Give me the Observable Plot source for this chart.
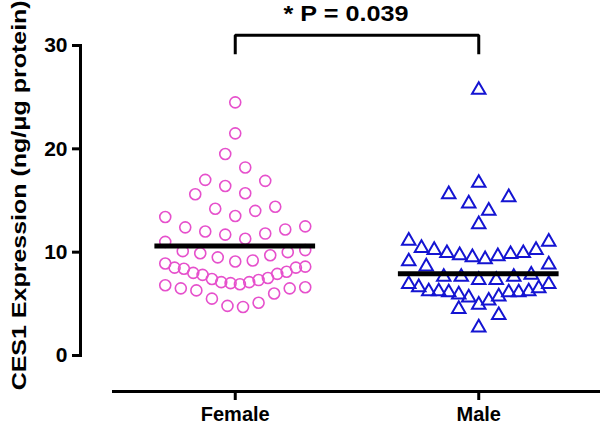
<!DOCTYPE html>
<html>
<head>
<meta charset="utf-8">
<script src="https://cdn.jsdelivr.net/npm/d3@7"></script>
<script src="https://cdn.jsdelivr.net/npm/@observablehq/plot@0.6"></script>
<style>
  html, body { margin: 0; padding: 0; background: #fff; }
</style>
</head>
<body>
<div id="chart"></div>
<script>
// ---------- data ----------
const groups = ["Female", "Male"];
const female = [24.5, 21.5, 19.5, 18.2, 16.9, 17.0, 16.4, 15.7, 15.6, 14.4, 14.2, 14.0, 13.4, 13.5,
  12.4, 12.5, 12.0, 11.7, 12.2, 11.8, 11.3, 11.0,
  10.1, 9.9, 9.5, 9.7, 10.0, 10.2,
  8.9, 9.1, 8.6, 9.2,
  8.5, 8.4, 8.0, 7.8, 7.4, 7.1, 7.0, 6.9, 7.1, 7.3, 7.5, 7.9, 8.1, 8.5,
  6.6, 6.5, 6.0, 6.3, 6.5, 6.8,
  5.1, 4.7, 4.8, 5.5];
const male = [25.7, 16.7, 15.6, 14.7, 15.3, 14.0, 12.7, 11.0, 11.1,
  10.2, 9.9, 9.8, 9.6, 9.5, 9.7, 9.9, 10.2, 10.4,
  9.1, 9.3, 8.6, 8.8,
  7.6, 7.6, 7.3, 7.3, 7.6, 7.8,
  6.9, 6.5, 6.2, 6.1, 6.1, 5.7, 5.3, 4.9, 5.6, 5.9, 6.1, 6.2, 6.2, 6.6, 6.9,
  4.5, 3.9, 2.7];
const centerLine = [10.6, 7.9];
const yTicks = [0, 10, 20, 30];
const yTitle = "CES1 Expression (ng/\u03bcg protein)";
const pLabel = "* P = 0.039";

// ---------- layout ----------
const W = 600, H = 425;
const xOpts = {domain: [-0.5, 1.5], range: [113, 600]};
const yOpts = {domain: [0, 30], range: [355, 45]};
const xS = Plot.scale({x: {type: "linear", ...xOpts}});
const pxPerUnit = xS.apply(1) - xS.apply(0);

// GraphPad-like column scatter: values binned in rows; inside a row the
// lowest values sit in the middle and higher ones alternate outward.
function columnScatter(values, binWidth, origin, spacing, maxHalf) {
  const out = new Array(values.length);
  const bins = d3.group(d3.range(values.length), i => Math.floor((values[i] - origin) / binWidth));
  for (const idx of bins.values()) {
    idx.sort((a, b) => values[a] - values[b]);
    const n = idx.length;
    const s = n > 1 ? Math.min(spacing, (2 * maxHalf) / (n - 1)) : 0;
    const slots = d3.range(n).map(k => (k - (n - 1) / 2) * s)
      .sort((a, b) => Math.abs(a) - Math.abs(b) || b - a);
    idx.forEach((i, k) => { out[i] = slots[k]; });
  }
  return out;
}

const fOff = columnScatter(female, 2.2, 6.85, 20, 70);
const mOff = columnScatter(male, 2.2, 7.05, 20, 70);
const femaleRows = female.map((v, i) => ({group: groups[0], value: v, x: 0 + fOff[i] / pxPerUnit}));
const maleRows = male.map((v, i) => ({group: groups[1], value: v, x: 1 + mOff[i] / pxPerUnit}));
const lineRows = centerLine.map((v, i) => ({i, v}));

const halfLine = 0.33;
const bracketTop = 31.0, bracketLeg = 29.15;
const bracket = [
  {x: 0, y: bracketLeg}, {x: 0, y: bracketTop}, {x: 1, y: bracketTop}, {x: 1, y: bracketLeg}
];

const font = "'Liberation Sans', Arial, Helvetica, sans-serif";

const svg = Plot.plot({
  width: W,
  height: H,
  marginLeft: 80,
  marginRight: 0,
  marginTop: 45,
  marginBottom: 34,
  x: xOpts,
  y: yOpts,
  style: {fontFamily: font, background: "#fff", color: "#000", overflow: "visible"},
  marks: [
    Plot.frame({anchor: "left", insetBottom: 36, strokeWidth: 3}),
    Plot.frame({anchor: "bottom", insetLeft: 33, strokeWidth: 3}),
    Plot.axisY({ticks: yTicks, tickSize: 8, tickPadding: 5, fontSize: 21, fontWeight: "bold", strokeWidth: 3, label: null}),
    Plot.axisX({ticks: [0, 1], tickFormat: i => groups[i], tickSize: 9, tickPadding: 6, fontSize: 20, fontWeight: "bold", strokeWidth: 3, label: null}),
    Plot.dot(femaleRows, {x: "x", y: "value", r: 5.5, stroke: "#e650cc", strokeWidth: 1.6, fill: "none"}),
    Plot.dot(maleRows, {x: "x", y: "value", r: 5, symbol: "triangle", stroke: "#1414d2", strokeWidth: 2, fill: "none"}),
    Plot.ruleY(lineRows, {y: "v", x1: d => d.i - halfLine, x2: d => d.i + halfLine, stroke: "#000", strokeWidth: 5}),
    Plot.line(bracket, {x: "x", y: "y", stroke: "#000", strokeWidth: 3, strokeLinejoin: "miter", strokeLinecap: "butt"}),
    Plot.text([pLabel], {x: 0.5, y: 33.1, dx: -11, text: d => d, fontSize: 22, fontWeight: "bold", textAnchor: "middle", lineAnchor: "middle", fill: "#000", ariaDescription: "p-label"}),
    Plot.text([yTitle], {frameAnchor: "left", y: 15.5, dx: -61, rotate: -90, text: d => d, fontSize: 21, fontWeight: "bold", textAnchor: "middle", lineAnchor: "middle", fill: "#000", ariaDescription: "y-title"})
  ]
});

function stretch(label, len) {
  d3.select(svg).selectAll(`[aria-description="${label}"] text`)
    .attr("textLength", len).attr("lengthAdjust", "spacingAndGlyphs");
}
stretch("y-title", 390);
stretch("p-label", 125);

document.getElementById("chart").appendChild(svg);
</script>
</body>
</html>
